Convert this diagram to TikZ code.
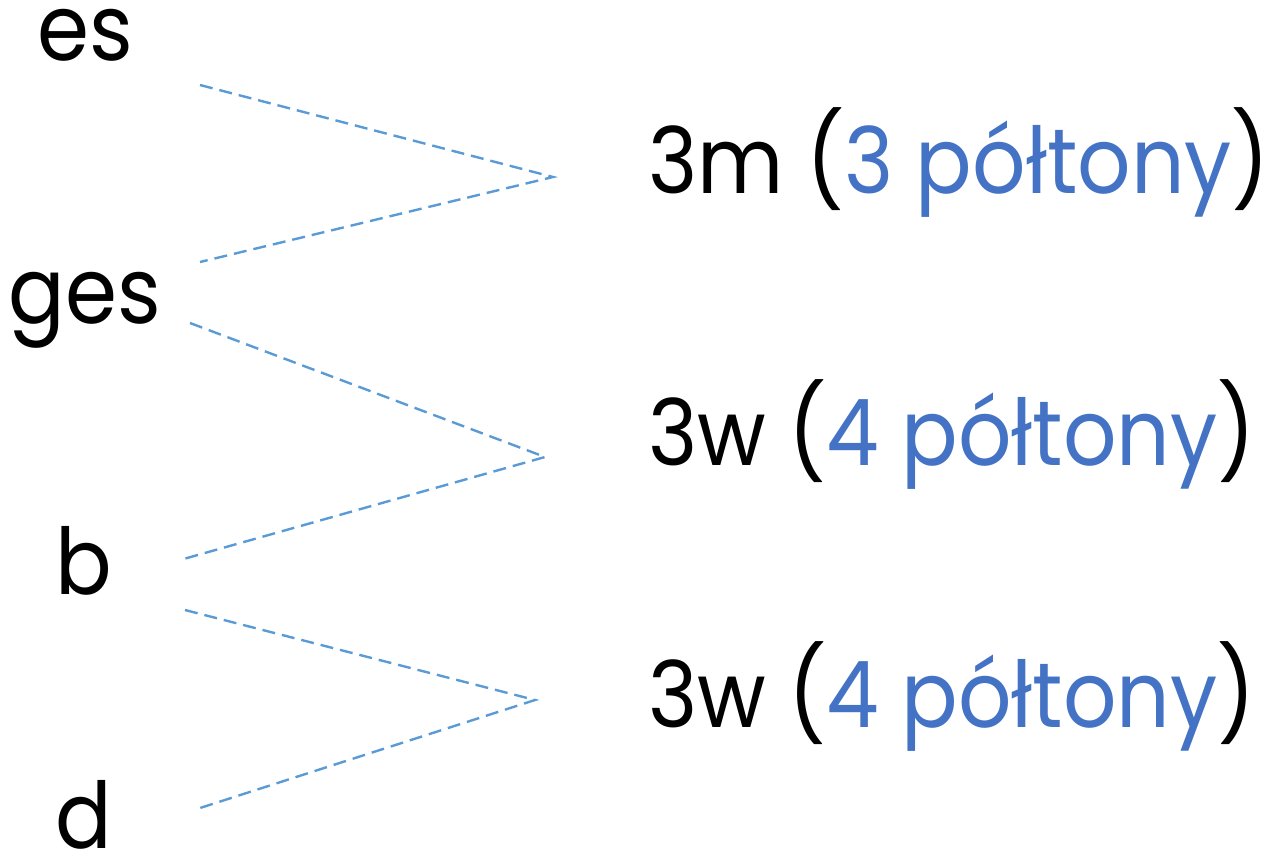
\documentclass[tikz,border=0pt]{standalone}
\usepackage{fontspec}
\setmainfont[FakeStretch=0.91]{Poppins}
\definecolor{lineblue}{HTML}{5B9BD5}
\definecolor{txtblue}{HTML}{4472C4}
\begin{document}
\begin{tikzpicture}[x=0.5pt,y=-0.5pt,
  note/.style={inner sep=0pt, font=\fontsize{46}{55}\selectfont},
  lbl/.style={note, anchor=base},
  interval/.style={note, anchor=base west},
  link/.style={draw=lineblue, line width=1.2pt, dash pattern=on 6.5pt off 3.5pt}]
\useasboundingbox (0,0) rectangle (1272,862);
\node[lbl] (es) at (85,60) {es};
\node[lbl] (ges) at (85,323) {ges};
\node[lbl] (b) at (84,594) {b};
\node[lbl] (d) at (84,848) {d};
\node[interval] (i1) at (648,193) {3m (\textcolor{txtblue}{3 półtony})};
\node[interval] (i2) at (648,465) {3w (\textcolor{txtblue}{4 półtony})};
\node[interval] (i3) at (648,727) {3w (\textcolor{txtblue}{4 półtony})};
\coordinate (a1) at (200,85);
\coordinate (p1) at (553,177);
\coordinate (a2) at (200,262);
\coordinate (b1) at (190,323);
\coordinate (p2) at (545,457);
\coordinate (b2) at (180,560);
\coordinate (c1) at (185,610);
\coordinate (p3) at (535,700);
\coordinate (c2) at (200,808);
\draw[link] (a1) -- (p1) -- (a2);
\draw[link] (b1) -- (p2) -- (b2);
\draw[link] (c1) -- (p3) -- (c2);
\end{tikzpicture}
\end{document}
